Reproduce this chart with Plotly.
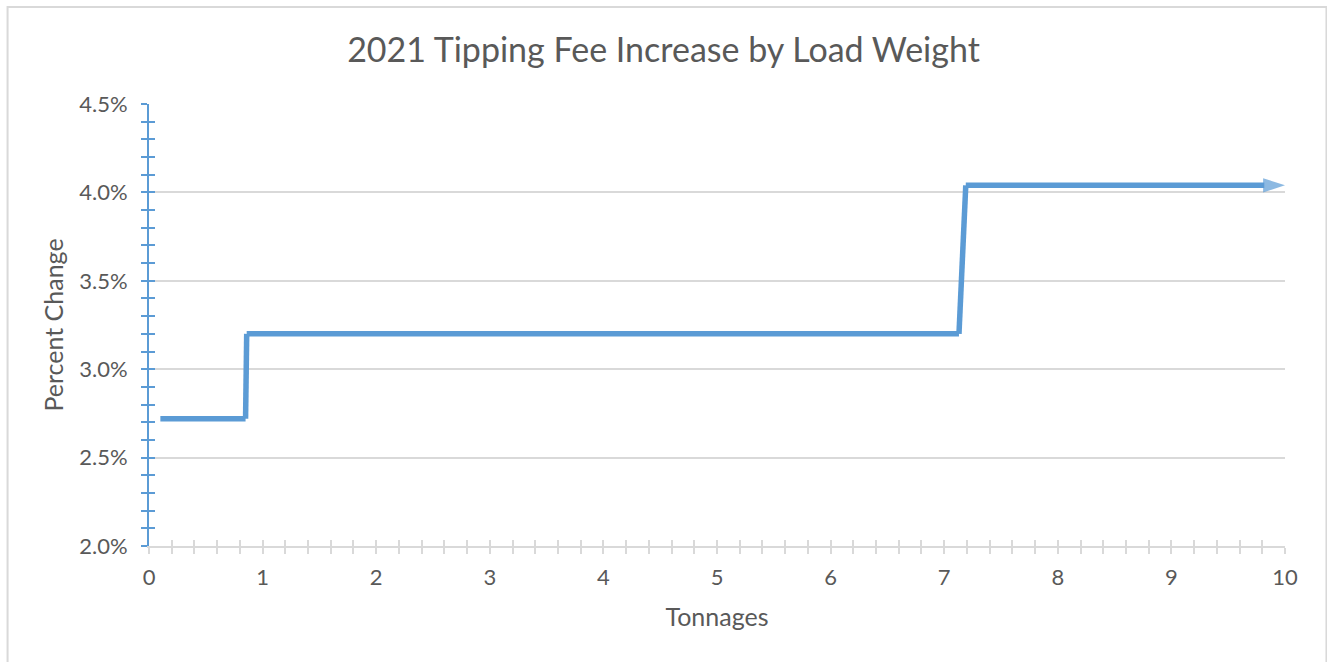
import plotly.graph_objects as go

# Data
tonnage = [0.1, 0.85, 0.86, 7.13, 7.19, 10]
pct_change = [2.72, 2.72, 3.2, 3.2, 4.04, 4.04]
x_ticks = [0, 1, 2, 3, 4, 5, 6, 7, 8, 9, 10]
y_ticks = [2.0, 2.5, 3.0, 3.5, 4.0, 4.5]
y_tick_text = [f"{v:.1f}%" for v in y_ticks]

BLUE = "#5B9BD5"
GREY = "#D9D9D9"
TXT = "#595959"
FONT = "Lato, Carlito, Calibri, sans-serif"

fig = go.Figure()
sizes = [0] * (len(tonnage) - 1) + [23]
fig.add_trace(go.Scatter(
    x=tonnage, y=pct_change, mode="lines+markers",
    line=dict(color=BLUE, width=5.5),
    marker=dict(symbol="arrow", angleref="previous", size=sizes, color=BLUE,
                line=dict(width=0)),
    cliponaxis=False, showlegend=False, hoverinfo="skip",
))
# helper trace for overlay axes (cross ticks)
fig.add_trace(go.Scatter(x=[None], y=[None], xaxis="x2", yaxis="y2",
                         showlegend=False, hoverinfo="skip"))

fig.update_layout(
    width=1327, height=662,
    margin=dict(l=149, r=42, t=104, b=116),
    paper_bgcolor="white", plot_bgcolor="white",
    font=dict(family=FONT, color=TXT, size=22),
    title=dict(text="2021 Tipping Fee Increase by Load Weight",
               x=0.5, xanchor="center", y=0.925, yanchor="middle",
               font=dict(size=34, color=TXT, family=FONT)),
    xaxis=dict(range=[0, 10], tickvals=x_ticks, showgrid=False, zeroline=False,
               showline=True, linecolor=GREY, linewidth=2,
               ticks="outside", ticklen=6, tickwidth=2, tickcolor=GREY,
               minor=dict(dtick=0.2, ticks="outside", ticklen=6, tickwidth=2, tickcolor=GREY),
               tickfont=dict(size=22, color=TXT), ticklabelstandoff=5,
               title=dict(text="Tonnages", font=dict(size=25, color=TXT), standoff=19)),
    yaxis=dict(range=[2.0, 4.5], tickvals=y_ticks, ticktext=y_tick_text,
               showgrid=True, gridcolor=GREY, gridwidth=2, zeroline=False,
               showline=True, linecolor=BLUE, linewidth=2,
               ticks="outside", ticklen=6, tickwidth=2, tickcolor=BLUE,
               minor=dict(dtick=0.1, ticks="outside", ticklen=6, tickwidth=2, tickcolor=BLUE),
               tickfont=dict(size=22, color=TXT), ticklabelstandoff=9,
               title=dict(text="Percent Change", font=dict(size=25, color=TXT), standoff=8)),
    xaxis2=dict(overlaying="x", range=[0, 10], tickvals=x_ticks, showgrid=False,
                zeroline=False, showticklabels=False, side="bottom",
                ticks="inside", ticklen=6, tickwidth=2, tickcolor=GREY,
                minor=dict(dtick=0.2, ticks="inside", ticklen=6, tickwidth=2, tickcolor=GREY)),
    yaxis2=dict(overlaying="y", range=[2.0, 4.5], tickvals=y_ticks, showgrid=False,
                zeroline=False, showticklabels=False, side="left",
                ticks="inside", ticklen=6, tickwidth=2, tickcolor=BLUE,
                minor=dict(dtick=0.1, ticks="inside", ticklen=6, tickwidth=2, tickcolor=BLUE)),
    shapes=[dict(type="rect", xref="paper", yref="paper",
                 x0=-0.1245, x1=1.0365, y0=-0.3, y1=1.2195,
                 line=dict(color=GREY, width=2), fillcolor="rgba(0,0,0,0)", layer="below")],
)

fig.write_html("out.html", config={"displayModeBar": False},
               post_script="document.body.style.margin='0';")
